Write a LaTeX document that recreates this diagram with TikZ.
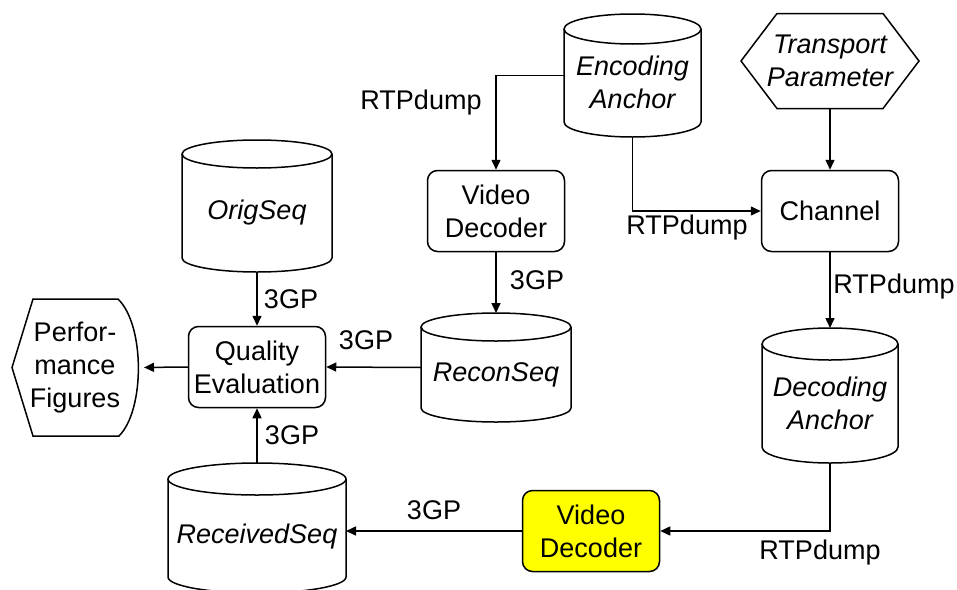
\documentclass[tikz,border=0pt]{standalone}
\usepackage{fontspec}
\setmainfont{Liberation Sans}
\usetikzlibrary{arrows.meta,calc}
\definecolor{ybox}{HTML}{FFFF00}
\newcommand\lab{\fontsize{27}{33}\selectfont}
% #1 name, #2 x1, #3 x2, #4 ytop, #5 ybot, #6 ry, #7 text y, #8 text
\newcommand\dbcyl[8]{%
  \node[shp, minimum width={(#3-#2)*1pt}, minimum height={(#5-#4)*1pt}] (#1) at ({(#2+#3)/2},{(#4+#5)/2}) {};
  \draw[fill=white] ({#2},{#4+#6}) -- ({#2},{#5-#6})
     arc[start angle=180, end angle=360, x radius={(#3-#2)/2*1pt}, y radius={#6*1pt}]
     -- ({#3},{#4+#6});
  \draw ({(#2+#3)/2},{#4+#6}) ellipse[x radius={(#3-#2)/2*1pt}, y radius={#6*1pt}];
  \node[ctext] (#1-t) at ({(#2+#3)/2},{#7}) {#8};
}
\begin{document}
\begin{tikzpicture}[x=1pt,y=-1pt,line width=1.5pt,
  box/.style={draw, rounded corners=10pt, minimum width=137pt, minimum height=81pt, align=center, font=\lab, inner sep=0pt},
  shp/.style={inner sep=0pt, outer sep=0pt},
  ctext/.style={align=center, font=\lab\itshape, inner sep=0pt},
  lbl/.style={font=\lab, inner sep=0pt},
  arr/.style={-{Triangle[length=10pt,width=9pt]}}]
\useasboundingbox (0,0) rectangle (957,589);

% data stores
\dbcyl{encA}{564}{701}{14}{137}{15}{82}{Encoding\\Anchor}
\dbcyl{orig}{182}{332}{140}{272}{14}{213}{OrigSeq}
\dbcyl{recon}{421}{571}{313}{422}{14}{375}{ReconSeq}
\dbcyl{decA}{762}{898}{328}{463}{16}{403}{Decoding\\Anchor}
\dbcyl{recv}{168}{346}{463}{593}{16}{537}{ReceivedSeq}

% transport parameter hexagon
\node[shp, minimum width=178pt, minimum height=95pt, align=center, font=\lab\itshape] (trans) at (830,61) {Transport\\Parameter};
\draw (trans.west) -- ([xshift=36pt]trans.north west) -- ([xshift=-36pt]trans.north east)
  -- (trans.east) -- ([xshift=-36pt]trans.south east) -- ([xshift=36pt]trans.south west) -- cycle;

% performance figures display shape
\node[shp, minimum width=126pt, minimum height=137pt, align=center, font=\lab] (perf) at (75,367.5) {Perfor-\\mance\\Figures};
\draw (perf.west) -- ([xshift=21pt]perf.north west) -- ([xshift=-20pt]perf.north east)
  .. controls ([xshift=7pt,yshift=-26pt]perf.north east) and ([xshift=7pt,yshift=26pt]perf.south east)
  .. ([xshift=-19pt]perf.south east) -- ([xshift=21pt]perf.south west) -- cycle;

% process boxes
\node[box] (vdec1) at (496,211) {Video\\Decoder};
\node[box] (chan) at (830,211) {Channel};
\node[box] (qual) at (257,367) {Quality\\Evaluation};
\node[box, fill=ybox] (vdec2) at (591,531) {Video\\Decoder};

% connectors
\draw[arr] (encA.west) -| (vdec1.north);
\draw[arr] (encA.south) |- (chan.west);
\draw[arr] (trans.south) -- (chan.north);
\draw[arr] (chan.south) -- (decA.north);
\draw[arr] (vdec1.south) -- (recon.north);
\draw[arr] (orig.south) -- (qual.north);
\draw[arr] (recon.west) -- (qual.east);
\draw[arr, shorten >=6pt] (qual.west) -- (perf.east);
\draw[arr] (recv.north) -- (qual.south);
\draw[arr] (decA.south) |- (vdec2.east);
\draw[arr] (vdec2.west) -- (vdec2.west -| recv.east);

% labels
\node[lbl] (l1) at (421,103) {RTPdump};
\node[lbl] (l2) at (687,228) {RTPdump};
\node[lbl] (l3) at (894,287) {RTPdump};
\node[lbl] (l4) at (820,553) {RTPdump};
\node[lbl] (g1) at (537,280) {3GP};
\node[lbl] (g2) at (291,299) {3GP};
\node[lbl] (g3) at (366,340) {3GP};
\node[lbl] (g4) at (292,435) {3GP};
\node[lbl] (g5) at (434,510) {3GP};
\end{tikzpicture}
\end{document}
